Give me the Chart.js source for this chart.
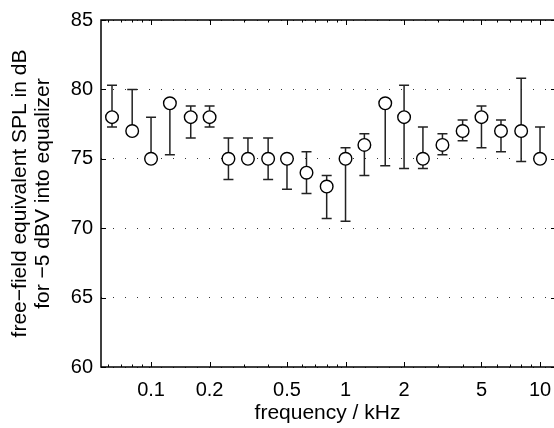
<!DOCTYPE html>
<html>
<head>
<meta charset="utf-8">
<script src="https://cdn.jsdelivr.net/npm/chart.js@4.4.1/dist/chart.umd.min.js"></script>
<style>
    body { margin: 0; background: #fff; }
    #wrap { width: 554px; height: 428px; }
</style>
</head>
<body>
<div id="wrap"><canvas id="chart" width="554" height="428"></canvas></div>
<script>
// one-third octave band centres, kHz
const freqs = [0.063, 0.08, 0.1, 0.125, 0.16, 0.2, 0.25, 0.315, 0.4, 0.5, 0.63, 0.8,
               1, 1.25, 1.6, 2, 2.5, 3.15, 4, 5, 6.3, 8, 10];
// equivalent SPL in dB
const spl =  [78, 77, 75, 79, 78, 78, 75, 75, 75, 75, 74, 73,
              75, 76, 79, 78, 75, 76, 77, 78, 77, 77, 75];
// error bar ends (dB)
const errHigh = [80.3, 80, 78, 79, 78.8, 78.8, 76.5, 76.5, 76.5, 75, 75.5, 73.8,
                 75.8, 76.8, 79, 80.3, 77.3, 76.8, 77.8, 78.8, 77.8, 80.8, 77.3];
const errLow =  [77.3, 77, 75, 75.3, 76.5, 77.3, 73.5, 75, 73.5, 72.8, 72.5, 70.7,
                 70.5, 73.8, 74.5, 74.3, 74.3, 75.3, 76.3, 75.8, 75.5, 74.8, 75];

const xTicks = [0.1, 0.2, 0.5, 1, 2, 5, 10];
const yTicks = [60, 65, 70, 75, 80, 85];

const FONT = 'Liberation Sans, Arial, Helvetica, sans-serif';
const INK = '#000';

// error bars under the markers
const errorBars = {
    id: 'errorBars',
    beforeDatasetsDraw(chart) {
        const { ctx, scales: { x, y } } = chart;
        ctx.save();
        ctx.strokeStyle = '#222';
        ctx.lineWidth = 1.5;
        for (let i = 0; i < freqs.length; i++) {
            const px = x.getPixelForValue(freqs[i]);
            const hi = y.getPixelForValue(errHigh[i]);
            const lo = y.getPixelForValue(errLow[i]);
            ctx.beginPath();
            ctx.moveTo(px, hi);
            ctx.lineTo(px, lo);
            if (errHigh[i] > spl[i]) { ctx.moveTo(px - 5, hi); ctx.lineTo(px + 5, hi); }
            if (errLow[i] < spl[i]) { ctx.moveTo(px - 5, lo); ctx.lineTo(px + 5, lo); }
            ctx.stroke();
        }
        ctx.restore();
    }
};

// box frame with inward ticks, matlab style (right edge falls just off the canvas)
const frame = {
    id: 'frame',
    afterDatasetsDraw(chart) {
        const { ctx, chartArea: a, scales: { x, y } } = chart;
        const right = a.right + 2;
        ctx.save();
        ctx.strokeStyle = INK;
        ctx.lineWidth = 1.5;
        ctx.beginPath();
        ctx.moveTo(right, a.top);
        ctx.lineTo(a.left, a.top);
        ctx.lineTo(a.left, a.bottom);
        ctx.lineTo(right, a.bottom);
        ctx.stroke();

        ctx.lineWidth = 1;
        ctx.beginPath();
        xTicks.forEach(v => {
            const px = Math.round(x.getPixelForValue(v)) + 0.5;
            ctx.moveTo(px, a.bottom); ctx.lineTo(px, a.bottom - 5);
            ctx.moveTo(px, a.top); ctx.lineTo(px, a.top + 5);
        });
        // minor log ticks
        for (let d = 0.01; d <= 10; d *= 10) {
            for (let m = 2; m <= 9; m++) {
                const v = d * m;
                if (v <= x.min || v >= x.max || xTicks.includes(+v.toPrecision(3))) continue;
                const px = Math.round(x.getPixelForValue(v)) + 0.5;
                ctx.moveTo(px, a.bottom); ctx.lineTo(px, a.bottom - 2.5);
                ctx.moveTo(px, a.top); ctx.lineTo(px, a.top + 2.5);
            }
        }
        yTicks.forEach(v => {
            const py = Math.round(y.getPixelForValue(v)) + 0.5;
            ctx.moveTo(a.left, py); ctx.lineTo(a.left + 5, py);
            ctx.moveTo(right, py); ctx.lineTo(right - 5, py);
        });
        ctx.stroke();
        ctx.restore();
    }
};

new Chart(document.getElementById('chart'), {
    type: 'scatter',
    data: {
        datasets: [{
            data: freqs.map((f, i) => ({ x: f, y: spl[i] })),
            pointStyle: 'circle',
            pointRadius: 6.3,
            pointBackgroundColor: '#fff',
            pointBorderColor: INK,
            pointBorderWidth: 1.4,
            showLine: false
        }]
    },
    options: {
        responsive: false,
        animation: false,
        layout: { autoPadding: false, padding: { top: 15, right: 0, left: 0, bottom: 0 } },
        plugins: { legend: { display: false }, tooltip: { enabled: false } },
        scales: {
            x: {
                type: 'logarithmic',
                min: 0.0553,
                max: 11.8,
                grid: { display: false, drawTicks: false },
                border: { display: false },
                afterBuildTicks: s => { s.ticks = xTicks.map(v => ({ value: v })); },
                afterFit: s => { s.height = 61; s.paddingLeft = 0; s.paddingRight = 0; },
                ticks: {
                    autoSkip: false,
                    maxRotation: 0,
                    padding: 11,
                    color: INK,
                    font: { family: FONT, size: 20 },
                    callback: v => String(v)
                },
                title: {
                    display: true,
                    text: 'frequency / kHz',
                    color: INK,
                    font: { family: FONT, size: 21 },
                    padding: { top: 0, bottom: 2.5 }
                }
            },
            y: {
                min: 60,
                max: 85,
                grid: { color: '#333', lineWidth: 1, drawTicks: false },
                border: { display: false, dash: [1, 11] },
                afterBuildTicks: s => { s.ticks = yTicks.map(v => ({ value: v })); },
                afterFit: s => { s.width = 101; },
                ticks: {
                    padding: 8,
                    color: INK,
                    font: { family: FONT, size: 20 }
                },
                title: {
                    display: true,
                    text: ['free\u2212field equivalent SPL in dB', 'for \u22125 dBV into equalizer'],
                    color: INK,
                    font: { family: FONT, size: 21, lineHeight: 1.1 },
                    padding: { top: 8.5, bottom: 0 }
                }
            }
        }
    },
    plugins: [errorBars, frame]
});
</script>
</body>
</html>
